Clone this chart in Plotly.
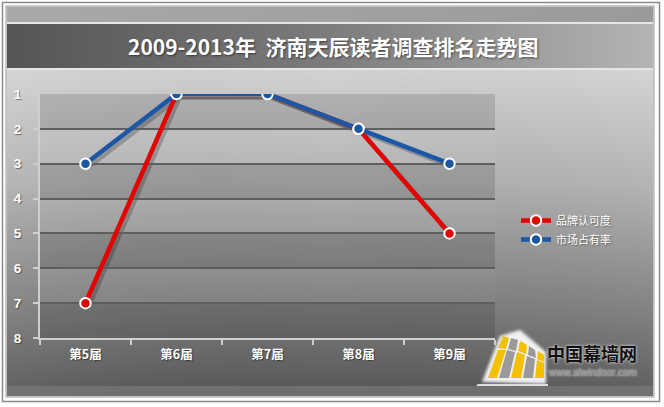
import plotly.graph_objects as go
import base64

# ---- data ----
categories = ["第5届", "第6届", "第7届", "第8届", "第9届"]
brand_recognition = [7, 1, 1, 2, 5]   # 品牌认可度
market_share = [3, 1, 1, 2, 3]        # 市场占有率
y_ticks = [1, 2, 3, 4, 5, 6, 7, 8]

W, H = 664, 407
def px(x): return x / W
def py(y): return 1 - y / H

RED = "#e60000"
BLUE = "#1c57a5"

# ---- background (decoration) as SVG ----
svg = f'''<svg xmlns="http://www.w3.org/2000/svg" width="{W}" height="{H}" viewBox="0 0 {W} {H}">
<defs>
<linearGradient id="top" x1="0" y1="0" x2="1" y2="0">
<stop offset="0" stop-color="#a9a9a9"/><stop offset="1" stop-color="#9a9a9a"/></linearGradient>
<linearGradient id="title" x1="0" y1="0" x2="1" y2="0">
<stop offset="0" stop-color="#555555"/><stop offset="0.5" stop-color="#7c7c7c"/><stop offset="1" stop-color="#b4b4b4"/></linearGradient>
<linearGradient id="panel" x1="0" y1="0" x2="0" y2="1">
<stop offset="0" stop-color="#d2d2d2"/><stop offset="0.35" stop-color="#b0b0b0"/><stop offset="0.75" stop-color="#7a7a7a"/><stop offset="1" stop-color="#555555"/></linearGradient>
<linearGradient id="panelh" x1="0" y1="0" x2="1" y2="0">
<stop offset="0" stop-color="#ffffff" stop-opacity="0.06"/><stop offset="0.5" stop-color="#000000" stop-opacity="0.0"/><stop offset="1" stop-color="#ffffff" stop-opacity="0.05"/></linearGradient>
<filter id="glow" x="-20%" y="-20%" width="140%" height="140%"><feGaussianBlur stdDeviation="1.5"/></filter>
</defs>
<rect x="0" y="0" width="{W}" height="{H}" fill="#ffffff"/>
<rect x="2.5" y="2.5" width="657" height="399" fill="#ffffff" stroke="#8a8a8a" stroke-width="1.5"/>
<rect x="6" y="6" width="648" height="391" fill="#e6e6e6" stroke="#9a9a9a" stroke-width="1"/>
<rect x="7" y="7" width="646" height="15" fill="url(#top)"/>
<rect x="7" y="24" width="646" height="44" fill="url(#title)"/>
<rect x="7" y="70" width="646" height="326" fill="url(#panel)"/>
<rect x="7" y="70" width="646" height="326" fill="url(#panelh)"/>
<rect x="7" y="386" width="646" height="10" fill="#7f7f7f" opacity="0.6"/>
<g filter="url(#glow)" fill="#ffffff" opacity="0.9">
<polygon points="482,382 500,336 520,330 546,352 546,384"/>
</g>
<g>
<polygon points="488,378 498,350 506,350 497,378" fill="#f2c200"/>
<polygon points="499,378 507,350 515,352 509,378" fill="#9a9a9a"/>
<polygon points="511,378 517,352 525,355 521,378" fill="#f2c200"/>
<polygon points="523,378 527,356 535,359 533,378" fill="#9a9a9a"/>
<polygon points="535,378 537,360 544,363 544,378" fill="#f2c200"/>
<polygon points="498,348 503,336 509,338 506,349" fill="#f2c200"/>
<polygon points="508,349 511,338 518,340 516,351" fill="#9a9a9a"/>
<polygon points="518,351 520,341 527,345 526,354" fill="#f2c200"/>
<polygon points="528,355 529,346 535,350 536,358" fill="#9a9a9a"/>
<polygon points="537,359 538,351 544,355 544,362" fill="#f2c200"/>
<polygon points="478,384 548,384 548,386 476,386" fill="#dddddd"/>
</g>
</svg>'''
svg_uri = "data:image/svg+xml;base64," + base64.b64encode(svg.encode("utf-8")).decode()

fig = go.Figure()

# shadow traces on offset axes (x/y); main on x2/y2
for vals in (brand_recognition, market_share):
    fig.add_trace(go.Scatter(x=categories, y=vals, mode="lines",
                             line=dict(color="rgba(0,0,0,0.22)", width=5),
                             showlegend=False, hoverinfo="skip",
                             xaxis="x", yaxis="y"))

fig.add_trace(go.Scatter(x=categories, y=brand_recognition, name="品牌认可度",
                         mode="lines+markers",
                         line=dict(color=RED, width=4.5),
                         marker=dict(size=10.5, color=RED, line=dict(color="white", width=2)),
                         xaxis="x2", yaxis="y2"))
fig.add_trace(go.Scatter(x=categories, y=market_share, name="市场占有率",
                         mode="lines+markers",
                         line=dict(color=BLUE, width=4.5),
                         marker=dict(size=10.5, color=BLUE, line=dict(color="white", width=2)),
                         xaxis="x2", yaxis="y2"))

x0, x1 = px(40), px(495)
y0, y1 = py(338), py(94)
dx, dy = 3 / W, 3 / H

shapes = []
for i, lo in enumerate(y_ticks[:-1]):
    hi = lo + 1
    fill = "rgba(0,0,0,0.13)" if i % 2 == 0 else "rgba(255,255,255,0.03)"
    shapes.append(dict(type="rect", xref="paper", yref="y2", x0=x0, x1=x1, y0=lo, y1=hi,
                       fillcolor=fill, line=dict(width=0), layer="below"))

xtickfont = dict(family="Noto Sans CJK SC", size=12.5, color="white", weight="bold",
                 shadow="1px 1px 1px rgba(0,0,0,0.45)")
ytickfont = dict(family="Liberation Sans", size=13.5, color="white", weight="bold",
                 shadow="1px 1px 1px rgba(0,0,0,0.45)")

fig.update_layout(
    width=W, height=H,
    margin=dict(l=0, r=0, t=0, b=0, pad=0, autoexpand=False),
    paper_bgcolor="white", plot_bgcolor="rgba(0,0,0,0)",
    images=[dict(source=svg_uri, xref="paper", yref="paper", x=0, y=1,
                 sizex=1, sizey=1, xanchor="left", yanchor="top",
                 sizing="stretch", layer="below")],
    shapes=shapes,
    xaxis=dict(domain=[x0 + dx, x1 + dx], range=[-0.5, 4.5], visible=False, anchor="y",
               automargin=False),
    yaxis=dict(domain=[y0 - dy, y1 - dy], range=[8, 1], visible=False, anchor="x",
               automargin=False),
    xaxis2=dict(domain=[x0, x1], range=[-0.5, 4.5], anchor="y2", automargin=False,
                showline=True, linecolor="#cfcfcf", linewidth=2,
                ticks="outside", tickson="boundaries", ticklen=5, tickcolor="#cfcfcf", tickwidth=2,
                showgrid=False, tickfont=xtickfont, ticklabelstandoff=4),
    yaxis2=dict(domain=[y0, y1], range=[8, 1], anchor="x2", automargin=False,
                tickvals=y_ticks, ticktext=[str(v) for v in y_ticks],
                showline=True, linecolor="#cfcfcf", linewidth=2,
                ticks="outside", ticklen=5, tickcolor="#cfcfcf", tickwidth=2,
                showgrid=True, gridcolor="#5e5e5e", gridwidth=1.5,
                zeroline=False, tickfont=ytickfont, ticklabelstandoff=9),
    legend=dict(x=px(516), y=py(206), xanchor="left", yanchor="top",
                bgcolor="rgba(0,0,0,0)",
                font=dict(family="Noto Sans CJK SC", size=11, color="white",
                          shadow="1px 1px 1px rgba(0,0,0,0.35)"),
                itemwidth=30, tracegroupgap=0),
    annotations=[
        dict(text="2009-2013年  济南天辰读者调查排名走势图", xref="paper", yref="paper",
             x=px(333), y=py(46), xanchor="center", yanchor="middle", showarrow=False,
             font=dict(family="Noto Sans CJK SC", size=21, color="white", weight="bold",
                       shadow="1px 1px 2px rgba(0,0,0,0.5)")),
        dict(text="中国幕墙网", xref="paper", yref="paper",
             x=px(592), y=py(353), xanchor="center", yanchor="middle", showarrow=False,
             font=dict(family="Noto Sans CJK SC", size=18, color="#111111", weight="bold",
                       shadow="0px 0px 3px #ffffff")),
        dict(text="www.alwindoor.com", xref="paper", yref="paper",
             x=px(592), y=py(372), xanchor="center", yanchor="middle", showarrow=False,
             font=dict(family="Liberation Sans", size=10, color="#8a8a8a",
                       shadow="0px 0px 2px #ffffff")),
    ],
    hovermode=False,
)

fig.write_html(
    "out.html",
    config={"displayModeBar": False},
    post_script=(
        "document.body.style.margin='0';document.body.style.padding='0';"
        "document.documentElement.style.overflow='hidden';"
        "var gd=document.getElementById('{plot_id}');"
        "gd.style.position='fixed';gd.style.top='0px';gd.style.left='0px';"
    ),
)
